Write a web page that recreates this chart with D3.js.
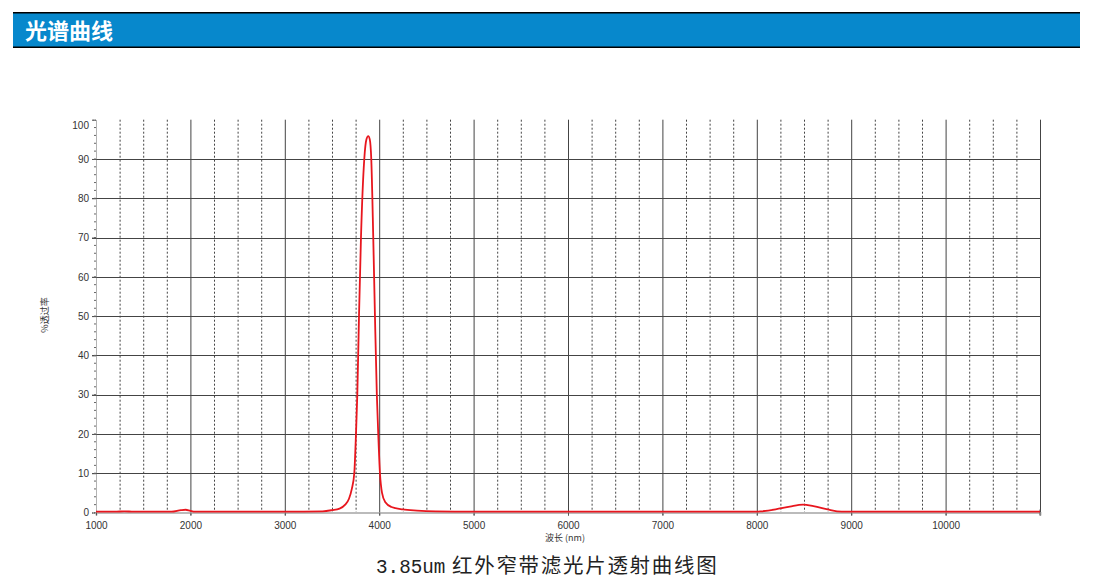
<!DOCTYPE html>
<html><head><meta charset="utf-8">
<script src="https://cdn.jsdelivr.net/npm/d3@7"></script>
<style>body{margin:0;background:#fff;}svg{display:block;}</style>
</head><body>
<script>
const headerTitle = "光谱曲线";
const captionLatin = "3.85um";
const captionCJK = "红外窄带滤光片透射曲线图";
const yTitle = "%透过率";
const xTitle = "波长 (nm)";
const xTicks = [1000,2000,3000,4000,5000,6000,7000,8000,9000,10000];
const yTicks = [0,10,20,30,40,50,60,70,80,90,100];
const wavelength = [1000,1200,1300,1400,1800,1900,1950,2000,2050,3000,3400,3500,3580,3640,3680,3710,3736,3754,3768,3786,3807,3842,3865,3884,3900,3916,3937,3955,3975,3990,4008,4030,4065,4130,4250,4400,4600,5000,8000,8050,8200,8350,8490,8600,8750,8850,8950,11000];
const transmission = [0.2,0.2,0.3,0.2,0.2,0.6,0.7,0.4,0.2,0.2,0.3,0.6,1.0,2.0,3.5,6,10,20,30,50,70,90,95,95.8,95,90,70,50,30,20,10,5,2.6,1.4,0.8,0.5,0.3,0.2,0.2,0.3,0.8,1.5,2.0,1.6,0.8,0.3,0.2,0.2];

const W=1093,H=586;
const svg=d3.select("body").append("svg").attr("width",W).attr("height",H);

// header
svg.append("rect").attr("x",13).attr("y",12).attr("width",1067).attr("height",36).attr("fill","#000");
svg.append("rect").attr("x",13).attr("y",13.5).attr("width",1067).attr("height",33).attr("fill","#0788cc");
svg.append("text").attr("x",25).attr("y",38.5).attr("fill","#fff").attr("font-size",22).attr("font-weight","bold")
  .attr("font-family","Noto Sans CJK SC").text(headerTitle);

const x=d3.scaleLinear().domain([1000,11000]).range([96,1040]);
const y=d3.scaleLinear().domain([0,100]).range([512.5,119.7]);

const g=svg.append("g");
const minor=d3.range(1000,11000,250).filter(v=>v%1000!==0);
g.selectAll(".vm").data(minor).enter().append("line")
  .attr("x1",d=>x(d)+0.5).attr("x2",d=>x(d)+0.5).attr("y1",y(100)).attr("y2",y(0))
  .attr("stroke","#444").attr("stroke-width",1).attr("stroke-dasharray","2,2");
g.selectAll(".vM").data(d3.range(2000,11001,1000)).enter().append("line")
  .attr("x1",d=>x(d)+0.5).attr("x2",d=>x(d)+0.5).attr("y1",y(100)).attr("y2",y(0)+3)
  .attr("stroke","#444").attr("stroke-width",1);
g.selectAll(".h").data(yTicks.filter(v=>v>0&&v<100)).enter().append("line")
  .attr("x1",x(1000)-4).attr("x2",x(11000)).attr("y1",d=>Math.round(y(d))+0.5).attr("y2",d=>Math.round(y(d))+0.5)
  .attr("stroke","#444").attr("stroke-width",1);

// y axis
const yAxis=d3.axisLeft(y).tickValues(yTicks).tickSize(4).tickPadding(3);
const ya=svg.append("g").attr("transform",`translate(${x(1000)},0)`).call(yAxis);
ya.select(".domain").attr("stroke","#666").attr("stroke-dasharray","1,1");
ya.selectAll(".tick line").attr("stroke","#555");
ya.selectAll("text").attr("font-family","Liberation Sans, Arial").attr("font-size",10).attr("fill","#333");
ya.selectAll(".tick text").filter(d=>d===100).attr("dy","0.9em");
ya.selectAll(".mt").data(d3.range(0,100,2)).enter().append("line").attr("x1",-2).attr("x2",0)
  .attr("y1",d=>y(d)).attr("y2",d=>y(d)).attr("stroke","#666");

// x axis
const xAxis=d3.axisBottom(x).tickValues(xTicks).tickSize(3).tickPadding(6).tickFormat(d3.format("d"));
const xa=svg.append("g").attr("transform",`translate(0,${y(0)})`).call(xAxis);
xa.select(".domain").attr("stroke","#bbb").attr("stroke-width",2);
xa.selectAll(".tick line").attr("stroke","#555");
xa.selectAll("text").attr("font-family","Liberation Sans, Arial").attr("font-size",10).attr("fill","#333");
svg.append("line").attr("x1",x(11000)).attr("x2",x(11000)).attr("y1",y(0)-3).attr("y2",y(0)+3).attr("stroke","#555");

// curve
const data=wavelength.map((w,i)=>[w,transmission[i]]);
svg.append("path").datum(data)
  .attr("d",d3.line().x(d=>x(d[0])).y(d=>y(d[1])).curve(d3.curveMonotoneX))
  .attr("fill","none").attr("stroke","#e8161e").attr("stroke-width",1.8);

// titles
svg.append("text").attr("transform",`translate(48,315) rotate(-90)`).attr("text-anchor","middle")
  .attr("font-family","Noto Sans CJK SC").attr("font-size",9).attr("fill","#333").text(yTitle);
svg.append("text").attr("x",565).attr("y",541).attr("text-anchor","middle")
  .attr("font-family","Noto Sans CJK SC").attr("font-size",9).attr("fill","#333").text(xTitle);
const cap=svg.append("text").attr("x",376).attr("y",573).attr("fill","#222");
cap.append("tspan").attr("font-family","Liberation Mono").attr("font-size",19.3).text(captionLatin);
cap.append("tspan").attr("x",452).attr("font-family","Noto Sans CJK SC").attr("font-size",20.5)
  .attr("letter-spacing",1.7).text(captionCJK);
</script>
</body></html>
